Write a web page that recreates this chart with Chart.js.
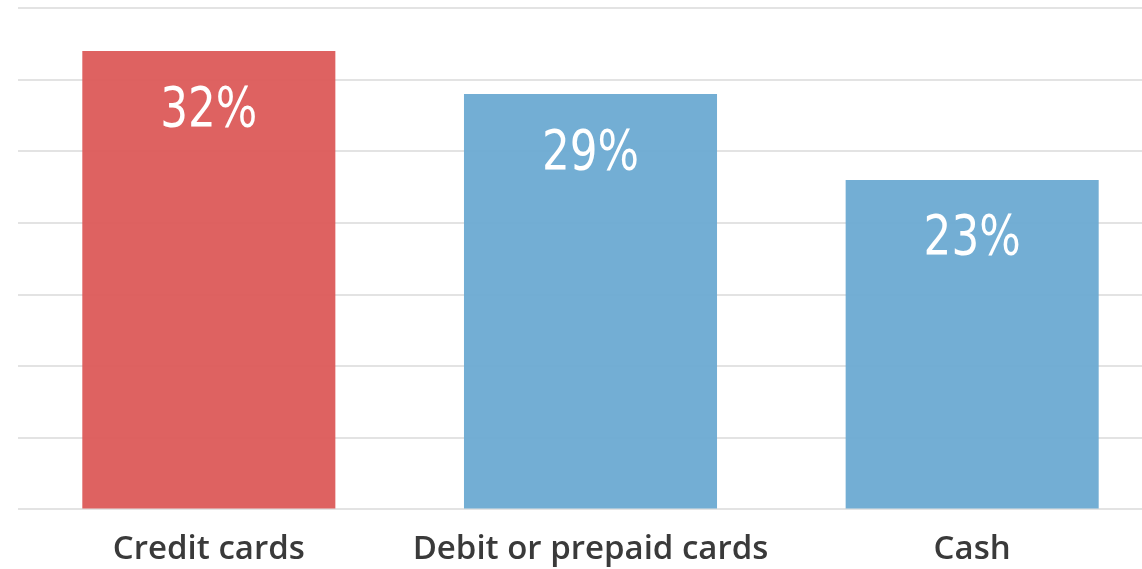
<!DOCTYPE html>
<html>
<head>
<meta charset="utf-8">
<script src="https://cdn.jsdelivr.net/npm/chart.js@4"></script>
<style>
    html, body { margin: 0; padding: 0; background: #fff; overflow: hidden; }
    #wrap { width: 1163px; height: 581px; position: relative; }
</style>
</head>
<body>
<div id="wrap"><canvas id="chart"></canvas></div>
<script>
// Data
const categories = ['Credit cards', 'Debit or prepaid cards', 'Cash'];
const shares = [32, 29, 23];
const barColors = ['rgba(220, 90, 88, 0.95)', 'rgba(108, 170, 210, 0.95)', 'rgba(108, 170, 210, 0.95)'];

// white percent labels inside bars (squeezed to look condensed)
const valueLabels = {
    id: 'valueLabels',
    afterDatasetsDraw(chart) {
        const ctx = chart.ctx;
        const meta = chart.getDatasetMeta(0);
        ctx.save();
        ctx.fillStyle = '#fff';
        ctx.font = '56px "DejaVu Sans", sans-serif';
        ctx.textAlign = 'center';
        ctx.textBaseline = 'middle';
        meta.data.forEach((bar, i) => {
            ctx.save();
            ctx.translate(bar.x, bar.y + 60);
            ctx.scale(0.78, 1);
            ctx.fillText(shares[i] + '%', 0, 0);
            ctx.restore();
        });
        ctx.restore();
    }
};

new Chart(document.getElementById('chart'), {
    type: 'bar',
    data: {
        labels: categories,
        datasets: [{
            data: shares,
            backgroundColor: barColors,
            borderWidth: 0,
            categoryPercentage: 1,
            barPercentage: 0.663
        }]
    },
    options: {
        responsive: true,
        maintainAspectRatio: false,
        animation: false,
        layout: { padding: { left: 18, top: 8, right: 0, bottom: 0 } },
        plugins: { legend: { display: false }, tooltip: { enabled: false } },
        scales: {
            x: {
                grid: { display: false },
                border: { display: false },
                ticks: {
                    color: '#3a3a3a',
                    padding: 12,
                    font: { family: '"Open Sans", sans-serif', size: 33, weight: '600' }
                }
            },
            y: {
                min: 0,
                max: 35,
                border: { display: false },
                grid: { color: '#e3e3e3', lineWidth: 2, drawTicks: false },
                ticks: { stepSize: 5, display: false }
            }
        }
    },
    plugins: [valueLabels]
});
</script>
</body>
</html>
